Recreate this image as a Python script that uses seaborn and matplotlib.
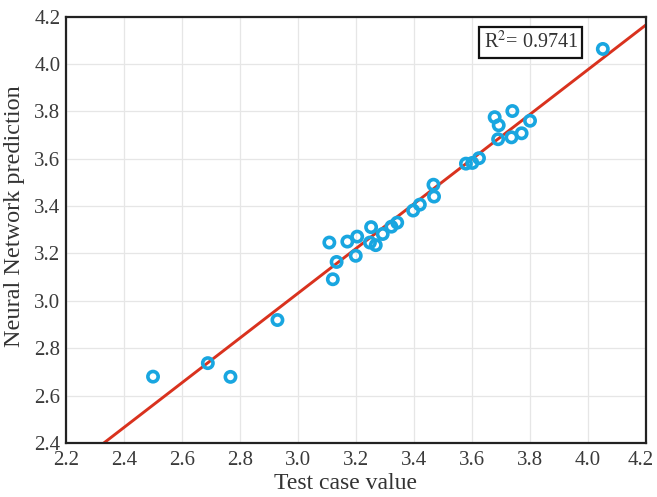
import numpy as np
import pandas as pd
import matplotlib
matplotlib.use("Agg")
import matplotlib.pyplot as plt
import matplotlib.transforms as mtransforms
import seaborn as sns

# Test-set values and the network's predictions
test_value = [2.500, 2.689, 2.767, 2.929,
              3.108, 3.133, 3.120, 3.170, 3.204, 3.199, 3.252, 3.248, 3.268,
              3.292, 3.322, 3.342, 3.397, 3.420, 3.467, 3.469,
              3.579, 3.601, 3.624, 3.678, 3.692, 3.690, 3.739, 3.736, 3.771,
              3.800, 4.051]
predicted = [2.680, 2.737, 2.679, 2.919,
             3.246, 3.164, 3.091, 3.250, 3.271, 3.190, 3.311, 3.246, 3.235,
             3.282, 3.313, 3.330, 3.381, 3.406, 3.490, 3.440,
             3.579, 3.582, 3.602, 3.775, 3.741, 3.682, 3.801, 3.690, 3.707,
             3.760, 4.063]

# Linear fit of prediction vs. test value
fit_slope = 0.944
fit_intercept = 0.200
fit_x = [2.2, 4.2]
r_squared = 0.9741

axis_ticks = [2.2, 2.4, 2.6, 2.8, 3.0, 3.2, 3.4, 3.6, 3.8, 4.0, 4.2]

sns.set_theme(style="whitegrid")
plt.rcParams["font.family"] = ["Liberation Serif", "DejaVu Serif"]
plt.rcParams["mathtext.fontset"] = "stix"

fig = plt.figure(figsize=(6.57, 4.97), dpi=100)
ax = fig.add_axes([0.1005, 0.1087, 0.8828, 0.8581])

df = pd.DataFrame({"x": test_value, "y": predicted})
fit_df = pd.DataFrame({"x": fit_x,
                       "y": [fit_slope * v + fit_intercept for v in fit_x]})

sns.lineplot(data=fit_df, x="x", y="y", ax=ax, color="#d9321e",
             linewidth=2.1, zorder=2)
sns.scatterplot(data=df, x="x", y="y", ax=ax, marker="o", s=55,
                facecolors="none", edgecolor="#19a6e0", linewidth=2.6,
                zorder=3)

ax.set_xlim(2.2, 4.2)
ax.set_ylim(2.4, 4.2)
ax.set_xticks(axis_ticks)
ax.set_yticks(axis_ticks[1:])
ax.set_xticklabels([f"{t:.1f}" for t in axis_ticks])
ax.set_yticklabels([f"{t:.1f}" for t in axis_ticks[1:]])

ax.grid(True, color="#e6e6e6", linewidth=0.9)
ax.set_facecolor("white")
for side in ["left", "bottom", "right", "top"]:
    ax.spines[side].set_visible(True)
    ax.spines[side].set_color("#222222")
    ax.spines[side].set_linewidth(1.6)

ax.tick_params(axis="both", direction="in", length=3, width=0.8,
               color="#bbbbbb", labelsize=15, labelcolor="#3a3a3a")
ax.tick_params(axis="x", pad=6)
ax.tick_params(axis="y", pad=4)

# keep the last x tick label inside the figure edge
last_label = ax.get_xticklabels()[-1]
last_label.set_transform(last_label.get_transform() +
                         mtransforms.ScaledTranslation(-4 / 72, 0,
                                                       fig.dpi_scale_trans))

ax.set_xlabel("Test case value", fontsize=17, color="#333333")
ax.set_ylabel("Neural Network prediction", fontsize=17.5, color="#333333")
ax.xaxis.set_label_coords(0.482, -0.070)
ax.yaxis.set_label_coords(-0.070, 0.532)

ax.text(3.803, 4.092, f"R$^2$= {r_squared:.4f}", fontsize=14.5,
        color="#333333", ha="center", va="center",
        bbox=dict(boxstyle="square,pad=0.22", facecolor="white",
                  edgecolor="#111111", linewidth=1.6))

fig.savefig("out.png", dpi=100)
